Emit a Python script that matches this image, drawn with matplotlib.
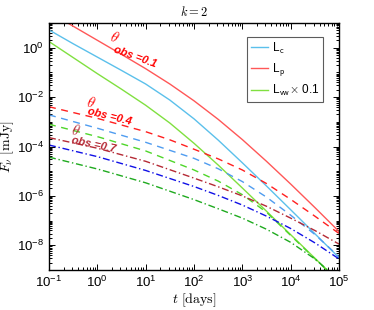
import numpy as np
import matplotlib
matplotlib.use("Agg")
import matplotlib.pyplot as plt
from matplotlib.ticker import LogLocator, NullFormatter, FixedLocator

plt.rcParams['font.family'] = ['Liberation Sans', 'DejaVu Sans']
plt.rcParams['mathtext.fontset'] = 'cm'

# ---- data (log10 t [days], log10 F [mJy]) ----
lt_p01 = [-1.0, -0.5, 0.0, 0.5, 1.0, 1.5, 2.0, 2.5, 3.0, 3.5, 4.0, 4.5, 5.0]
lF_p01 = [1.44, 0.87, 0.3, -0.27, -0.85, -1.47, -2.15, -2.9, -3.72, -4.6, -5.52, -6.47, -7.44]

lt_c01 = [-1.0, -0.5, 0.0, 0.5, 1.0, 1.5, 2.0, 2.5, 3.0, 3.5, 4.0, 4.5, 5.0]
lF_c01 = [0.72, 0.16, -0.38, -0.92, -1.47, -2.12, -2.88, -3.74, -4.66, -5.6, -6.56, -7.53, -8.5]

lt_vw01 = [-1.0, -0.5, 0.0, 0.5, 1.0, 1.5, 2.0, 2.5, 3.0, 3.5, 4.0, 4.5, 5.0]
lF_vw01 = [0.25, -0.4, -1.05, -1.68, -2.33, -3.05, -3.87, -4.75, -5.68, -6.62, -7.57, -8.52, -9.47]

lt_p04 = [-1.0, 0.0, 1.0, 1.5, 2.0, 2.5, 3.0, 3.5, 4.0, 4.5, 5.0]
lF_p04 = [-2.39, -2.86, -3.40, -3.73, -4.11, -4.5, -4.95, -5.5, -6.14, -6.82, -7.52]

lt_c04 = [-1.0, 0.0, 1.0, 2.0, 2.5, 3.0, 3.5, 4.0, 4.5, 5.0]
lF_c04 = [-2.72, -3.26, -3.83, -4.48, -4.9, -5.42, -6.05, -6.78, -7.56, -8.46]

lt_vw04 = [-1.0, 0.0, 1.0, 2.0, 2.5, 3.0, 3.5, 4.0, 4.5, 5.0]
lF_vw04 = [-3.10, -3.60, -4.18, -4.95, -5.4, -5.95, -6.66, -7.6, -8.54, -9.48]

lt_p07 = [-1.0, 0.0, 1.0, 2.0, 2.5, 3.0, 3.5, 4.0, 4.5, 5.0]
lF_p07 = [-3.64, -4.07, -4.6, -5.28, -5.63, -6.0, -6.42, -6.9, -7.4, -7.95]

lt_c07 = [-1.0, 0.0, 1.0, 2.0, 2.5, 3.0, 3.5, 4.0, 4.5, 5.0]
lF_c07 = [-3.94, -4.41, -4.97, -5.62, -5.98, -6.37, -6.82, -7.32, -7.9, -8.55]

lt_vw07 = [-1.0, 0.0, 1.0, 2.0, 2.5, 3.0, 3.5, 4.0, 4.5, 5.0]
lF_vw07 = [-4.43, -4.91, -5.47, -6.15, -6.52, -6.9, -7.35, -7.88, -8.55, -9.4]

y_major_exp = [-8, -6, -4, -2, 0]
legend_labels = [r'L$_{\mathsf{c}}$', r'L$_{\mathsf{p}}$', r'L$_{\mathsf{vw}}$$\times$ 0.1']

c_red, c_blue, c_green = '#FF5757', '#5BC0EB', '#80E040'
cd_red, cd_blue, cd_green = '#FF1F1F', '#4F9CF0', '#4FD62A'
cdd_red, cdd_blue, cdd_green = '#B52A35', '#1010E6', '#1FAA1F'

fig = plt.figure(figsize=(3.74, 3.10), dpi=100)
ax = fig.add_axes([49/374, 1-270/310, 290/374, 247/310])

def P(lt, lF):
    return 10**np.array(lt), 10**np.array(lF)

lw = 1.0
h_c, = ax.plot(*P(lt_c01, lF_c01), color=c_blue, lw=lw)
h_p, = ax.plot(*P(lt_p01, lF_p01), color=c_red, lw=lw)
h_vw, = ax.plot(*P(lt_vw01, lF_vw01), color=c_green, lw=lw)

dash = (0, (5, 4))
ax.plot(*P(lt_p04, lF_p04), color=cd_red, lw=lw, ls=dash)
ax.plot(*P(lt_c04, lF_c04), color=cd_blue, lw=lw, ls=dash)
ax.plot(*P(lt_vw04, lF_vw04), color=cd_green, lw=lw, ls=dash)

ddash = (0, (5, 2, 1, 2))
ax.plot(*P(lt_p07, lF_p07), color=cdd_red, lw=lw, ls=ddash)
ax.plot(*P(lt_c07, lF_c07), color=cdd_blue, lw=lw, ls=ddash)
ax.plot(*P(lt_vw07, lF_vw07), color=cdd_green, lw=lw, ls=ddash)

ax.set_xscale('log')
ax.set_yscale('log')
ax.set_xlim(1e-1, 1e5)
ax.set_ylim(1e-9, 1e1)
ax.xaxis.set_major_locator(LogLocator(base=10, numticks=20))
ax.yaxis.set_major_locator(FixedLocator([10.0**e for e in y_major_exp]))
ax.yaxis.set_major_formatter(matplotlib.ticker.FuncFormatter(
    lambda v, p: r'$\mathdefault{10^{%d}}$' % round(np.log10(v))))
ax.xaxis.set_minor_locator(LogLocator(base=10, subs=np.arange(2, 10), numticks=20))
ax.yaxis.set_minor_locator(LogLocator(base=10, subs=np.arange(1, 10), numticks=20))
ax.xaxis.set_minor_formatter(NullFormatter())
ax.yaxis.set_minor_formatter(NullFormatter())
ax.tick_params(which='both', direction='in', top=True, right=True, labelsize=9.5, width=0.7)
ax.tick_params(which='major', length=4)
ax.tick_params(which='minor', length=2.2)
for s in ax.spines.values():
    s.set_linewidth(1.0)

ax.set_title(r'$k=2$', fontsize=9, pad=5)
ax.set_xlabel(r'$t\ [\mathrm{days}]$', fontsize=10, labelpad=1)
ax.set_ylabel(r'$F_\nu\ [\mathrm{mJy}]$', fontsize=10)
ax.yaxis.set_label_coords(-0.115, 0.5)

leg = ax.legend([h_c, h_p, h_vw], legend_labels, loc='upper right',
                bbox_to_anchor=(323/374, 1-37/310), bbox_transform=fig.transFigure,
                fontsize=8.5, frameon=True, fancybox=False, edgecolor='#333333',
                handlelength=1.5, handletextpad=0.3, borderpad=0.3, labelspacing=0.45,
                borderaxespad=0)
leg.get_frame().set_linewidth(0.8)

# annotations
def ann(xp, yp, txt, color, rot, **kw):
    fig.text(xp/374, 1-yp/310, txt, color=color, rotation=rot,
             ha='left', va='center', rotation_mode='anchor', **kw)

ann(110, 36, r'$\theta$', 'red', -20, fontsize=10.5)
ann(114, 49, 'obs =0.1', 'red', -20, fontsize=8, fontweight='bold', fontstyle='italic')
ann(87, 102, r'$\theta$', 'red', -14, fontsize=10.5)
ann(88, 111, 'obs =0.4', 'red', -14, fontsize=8, fontweight='bold', fontstyle='italic')
ann(71, 130, r'$\theta$', cdd_red, -12, fontsize=10.5)
ann(72, 140, 'obs =0.7', cdd_red, -12, fontsize=8, fontweight='bold', fontstyle='italic')

fig.savefig('out.png', dpi=100)
